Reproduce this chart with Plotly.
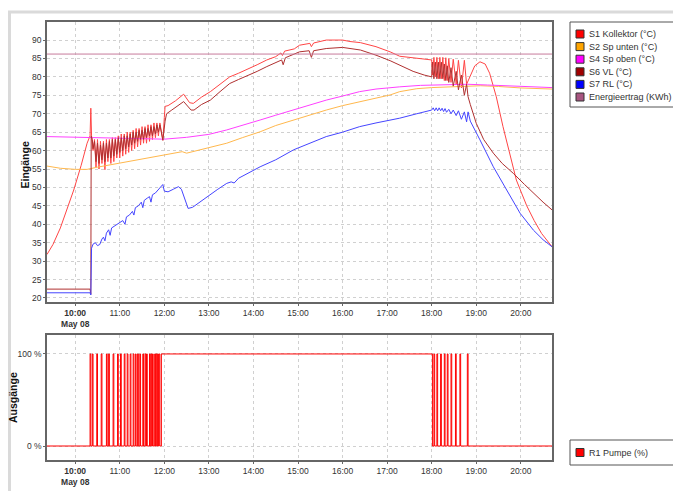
import plotly.graph_objects as go

DAY = "2013-05-08 "

# ---------------- data ----------------
s1_t = ["09:22","09:30","09:40","09:50","09:58","10:08","10:16","10:20","10:21","10:22",
        "10:24","10:26","10:28","10:30","10:32","10:34","10:36","10:38","10:40","10:42",
        "10:44","10:46","10:48","10:50","10:52","10:54","10:56","10:58","11:00","11:02",
        "11:04","11:06","11:08","11:10","11:12","11:14","11:16","11:18","11:20","11:22",
        "11:24","11:26","11:28","11:30","11:32","11:34","11:36","11:38","11:40","11:42",
        "11:44","11:46","11:48","11:50","11:52","11:54","11:56","11:58","12:00","12:01",
        "12:05","12:15","12:26","12:34","12:39","12:50","13:02","13:15","13:28","13:40",
        "13:55","14:05","14:18","14:30","14:37","14:39","14:42","14:55","15:02","15:10",
        "15:16","15:18","15:21","15:38","16:00","16:10","16:24","16:45","17:04","17:17",
        "17:35","17:50","18:00","18:01","18:03","18:05","18:07","18:09","18:11","18:13",
        "18:15","18:17","18:19","18:21","18:23","18:26","18:29","18:33","18:36","18:40",
        "18:44","18:47","18:52","18:58","19:05","19:12","19:18","19:27","19:36","19:45",
        "19:50","19:54","20:00","20:08","20:18","20:28","20:42"]
s1_v = [31.8,34.5,39,44.5,49.3,56,62,64,71.5,64,
        60,63,55.5,63,55,62.5,56.5,62.5,54.8,63,
        57,63,56.5,63.5,57,63.5,58,64,58,64.5,
        58.5,64.5,59,65,59.5,65,60,65.5,60.5,66,
        61,66,61.5,66.5,62,66.5,62,67,62.5,67,
        63,67.5,63.5,67.5,64,67.5,64.5,62.8,69,72,
        72.2,73.5,75.3,73,72.8,74.5,76,78,80,81,
        82.3,83.3,84.6,85.5,86.5,85.8,87,87.6,88.6,88.8,
        89.1,88.2,89.2,90,90,89.6,89.3,88.2,86.8,85.6,
        85.1,84.7,84.6,80.5,85.3,80,85.3,79.5,85.3,79.5,
        85.3,79,85.2,79,85,78.5,84.8,78,84.5,77,
        84.5,78,80.5,83,84.1,83.5,81,74.6,66.5,59.3,
        54.5,52,49,45,41,37.5,33.9]

s2_t = ["09:22","09:40","10:00","10:16","10:30","11:00","11:30","11:54","12:15","12:24",
        "12:30","12:45","13:00","13:24","13:45","14:09","14:30","14:54","15:15","15:38",
        "16:00","16:23","16:45","17:04","17:17","17:40","18:00","18:24","19:06","19:30",
        "20:00","20:42"]
s2_v = [55.8,55.2,54.9,54.9,55.5,56.6,57.6,58.5,59.3,59.7,
        59.3,60.0,60.8,62,63.5,65.1,66.8,68.3,69.7,71,
        72.2,73.3,74.3,75.1,76,76.8,77.1,77.3,77.6,77.4,
        77.0,76.7]

s4_t = ["09:22","10:20","11:00","12:00","12:30","13:00","13:24","13:45","14:09","14:30",
        "14:54","15:15","15:38","16:00","16:23","16:45","17:04","17:17","17:45","18:20",
        "18:48","19:15","19:45","20:15","20:42"]
s4_v = [63.8,63.5,63.3,63.1,63.6,64.4,65.6,66.8,68.3,69.6,
        71,72.4,73.7,74.8,76,76.7,77.1,77.3,77.7,77.9,
        78,77.8,77.5,77.3,77.1]

s6_t = ["09:22","10:20","10:21","10:21:30","10:23",
        "10:24","10:26","10:28","10:30","10:32","10:34","10:36","10:38","10:40","10:42",
        "10:44","10:46","10:48","10:50","10:52","10:54","10:56","10:58","11:00","11:02",
        "11:04","11:06","11:08","11:10","11:12","11:14","11:16","11:18","11:20","11:22",
        "11:24","11:26","11:28","11:30","11:32","11:34","11:36","11:38","11:40","11:42",
        "11:44","11:46","11:48","11:50","11:52","11:54","11:56","11:58","12:01","12:03",
        "12:10","12:26","12:36","12:40","12:50","13:02","13:15","13:28","13:40","13:55",
        "14:05","14:18","14:30","14:38","14:40","14:43","15:02","15:15","15:18","15:21",
        "15:38","16:00","16:24","16:45","17:04","17:17","17:35","17:50","18:00","18:01",
        "18:03","18:05","18:07","18:09","18:11","18:13","18:15","18:17","18:19","18:21",
        "18:23","18:26","18:29","18:33","18:36","18:40","18:44","18:47","18:49","18:52",
        "19:00","19:10","19:23","19:35","19:50","20:05","20:17","20:30","20:42"]
s6_v = [22.4,22.4,21,64,63,
        60.5,62.5,57,62,56.5,61.5,57.5,62,57,62,
        58,62.5,58,63,58.5,63,59,63.5,59.5,63.5,
        60,64,60.5,64,61,64.5,61.5,65,62,65,
        62.5,65.5,63,65.5,63,66,63.5,66,64,66.5,
        64,66.5,64.5,67,65,67,65,62.8,68,70,
        71,73.3,71,71,72.5,73.7,76,78.2,79.3,80.5,
        81.5,82.8,84,84.6,83.3,85.2,86.8,87.1,85.3,87.1,
        87.7,88,87.3,85.9,84.4,83.2,81.5,80.5,80,84,
        79.5,84,79.5,84,79.5,84,79.5,83.5,79,83,
        78.5,82.5,77.5,81.5,76.5,80.5,75,78,74.6,72.5,
        67.4,63,59.3,56.5,53.8,50.8,48.4,46,43.9]

s7_t = ["09:22","10:20","10:21","10:21:30","10:22","10:24","10:27","10:30","10:33","10:36",
        "10:38","10:40","10:42","10:45","10:47","10:49","10:53","10:56","11:00","11:04",
        "11:07","11:09","11:13","11:17","11:19","11:21","11:25","11:29","11:31","11:33",
        "11:37","11:40","11:42","11:44","11:48","11:52","11:55","11:58","12:00","12:05",
        "12:12","12:19","12:23","12:28","12:32","12:38","12:48","13:00","13:12","13:24",
        "13:30","13:34","13:40","14:09","14:30","14:54","15:15","15:38","16:00","16:23",
        "16:45","17:04","17:17","17:40","18:00","18:02","18:04","18:06","18:08","18:10",
        "18:12","18:14","18:16","18:18","18:20","18:23","18:26","18:29","18:33","18:36",
        "18:40","18:44","18:47","18:49","18:52","19:05","19:23","19:41","19:59","20:17",
        "20:30","20:42"]
s7_v = [21.4,21.4,20.8,33,33.5,34.6,35,34.2,34.5,36,
        36.5,35.5,37.6,38.5,37,39,39.5,39.8,40.3,41,
        40,42,42.5,43.5,42.5,44.5,45,46,44.5,46.5,
        47.1,47.5,46,48,48.5,49.5,50,50.8,49,48.8,
        49.5,50.2,49.5,46.5,44.3,44.6,46.1,47.8,49.5,51.1,
        51.5,51.2,52.5,55.6,57.5,60.2,62,63.8,65,66.5,
        67.5,68.3,68.8,70,71,71.6,70.8,71.6,70.8,71.6,
        70.8,71.5,70.6,71.4,70.4,71.2,70,71,69.5,70.8,
        68.5,70.5,67.8,70.5,68,62.9,55.6,49.3,43,38.4,
        35.8,33.9]

energie_t = ["09:22", "20:42"]
energie_v = [86.2, 86.2]

pump_on = ["10:20","10:23","10:29","10:35","10:42","10:45","10:51","10:57","11:01","11:06",
           "11:10","11:14","11:18","11:21","11:24","11:27","11:31","11:34","11:36","11:40",
           "11:42","11:44","11:47","11:49","11:51","11:53","11:56",
           "18:03","18:07","18:12","18:17","18:21","18:26","18:32","18:38","18:48"]
pump_off = ["10:21","10:24","10:30","10:36","10:43","10:46","10:52","10:58","11:02","11:07",
            "11:11","11:15","11:19","11:22","11:25","11:28","11:32","11:35","11:37","11:41",
            "11:43","11:45","11:48","11:50","11:52","11:54","18:01",
            "18:04","18:08","18:13","18:18","18:22","18:27","18:33","18:39","18:49"]

x_ticks = ["10:00","11:00","12:00","13:00","14:00","15:00","16:00","17:00","18:00","19:00","20:00"]
x_ticktext = ["<b>10:00</b><br><b>May 08</b>"] + x_ticks[1:]
y_ticks = [20,25,30,35,40,45,50,55,60,65,70,75,80,85,90]
y2_ticks = [0, 100]
y2_ticktext = ["0 %", "100 %"]
x_start, x_end = "09:22", "20:42"

# ---------------- figure ----------------
def d(ts):
    return [DAY + t for t in ts]

series = [
    ("S1 Kollektor (°C)", s1_t, s1_v, "#ff4545", "#ff0000"),
    ("S2 Sp unten (°C)", s2_t, s2_v, "#ffb84d", "#ffa500"),
    ("S4 Sp oben (°C)", s4_t, s4_v, "#ff40ff", "#ff00ff"),
    ("S6 VL (°C)", s6_t, s6_v, "#b03030", "#a00000"),
    ("S7 RL (°C)", s7_t, s7_v, "#4545ff", "#0000ff"),
    ("Energieertrag (KWh)", energie_t, energie_v, "#c77a9c", "#a85580"),
]

W, H = 681, 491
OFF = 8  # page body margin: screen position = figure position + 8
px = lambda v: (v - OFF) / W
py = lambda v: 1 - (v - OFF) / H

fig = go.Figure()
for name, ts, vs, lc, sc in series:
    fig.add_trace(go.Scatter(x=d(ts), y=vs, mode="lines", name=name, showlegend=False,
                             line=dict(color=lc, width=1), xaxis="x", yaxis="y"))

pump_name = "R1 Pumpe (%)"
pt = [x_start]
pv = [0]
for on, off in zip(pump_on, pump_off):
    pt += [on, off]
    pv += [100, 0]
pt.append(x_end)
pv.append(0)
fig.add_trace(go.Scatter(x=d(pt), y=pv, mode="lines", name=pump_name, showlegend=False,
                         line=dict(color="#ff0000", width=1, shape="hv"),
                         xaxis="x2", yaxis="y2"))

# ---- legend boxes (drawn as text + swatches to match the compact rows) ----
legend_font = dict(family="Liberation Sans, Arial, sans-serif", size=9, color="#333")
shapes = [dict(type="rect", xref="paper", yref="paper", x0=1.5 / W, y0=-0.02, x1=1.02, y1=py(12),
               line=dict(color="#dadada", width=3), layer="below")]
annotations = []

def legend_box(entries, top, bottom, first_row, row_gap):
    shapes.append(dict(type="rect", xref="paper", yref="paper", x0=px(570), x1=px(678),
                       y0=py(bottom), y1=py(top), line=dict(color="#555", width=1),
                       fillcolor="white", layer="above"))
    for i, (name, col) in enumerate(entries):
        cy = first_row + i * row_gap
        shapes.append(dict(type="rect", xref="paper", yref="paper",
                           x0=px(576), x1=px(584), y0=py(cy + 4), y1=py(cy - 4),
                           fillcolor=col, line=dict(color="#333", width=1), layer="above"))
        annotations.append(dict(text=name, x=px(587), y=py(cy), xref="paper", yref="paper",
                                xanchor="left", yanchor="middle", showarrow=False,
                                font=legend_font))

legend_box([(s[0], s[4]) for s in series], 22, 107, 34, 12.6)
legend_box([(pump_name, "#ff0000")], 440, 465, 452.5, 0)

annotations += [
    dict(text="<b>Eingänge</b>", x=px(24.5), y=py(165), xref="paper", yref="paper",
         xanchor="center", yanchor="middle", textangle=-90, showarrow=False,
         font=dict(family="Liberation Sans, Arial, sans-serif", size=10.5, color="#111")),
    dict(text="<b>Ausgänge</b>", x=px(13), y=py(398), xref="paper", yref="paper",
         xanchor="center", yanchor="middle", textangle=-90, showarrow=False,
         font=dict(family="Liberation Sans, Arial, sans-serif", size=10.5, color="#111")),
]

tickfont = dict(family="Liberation Sans, Arial, sans-serif", size=8.5, color="#333")
axis_common = dict(showline=True, linecolor="#666", linewidth=1.5, mirror=True,
                   showgrid=True, gridcolor="#d0d0d0", griddash="dot", gridwidth=1,
                   ticks="outside", ticklen=2, tickcolor="#666", tickfont=tickfont,
                   zeroline=False)

xr = [DAY + x_start, DAY + x_end]
fig.update_layout(
    width=W, height=H,
    margin=dict(l=0, r=0, t=0, b=0, autoexpand=False),
    paper_bgcolor="white", plot_bgcolor="white",
    font=dict(family="Liberation Sans, Arial, sans-serif", size=9, color="#333"),
    xaxis=dict(domain=[px(47), px(552)], anchor="y", type="date", range=xr,
               tickvals=d(x_ticks), ticktext=x_ticktext, **axis_common),
    yaxis=dict(domain=[py(302), py(22)], anchor="x", range=[18.9, 94.9],
               tickvals=y_ticks, **axis_common),
    xaxis2=dict(domain=[px(47), px(552)], anchor="y2", type="date", range=xr,
                tickvals=d(x_ticks), ticktext=x_ticktext, **axis_common),
    yaxis2=dict(domain=[py(460), py(335)], anchor="x2", range=[-15.2, 120.6],
                tickvals=y2_ticks, ticktext=y2_ticktext, **axis_common),
    annotations=annotations,
    shapes=shapes,
    showlegend=False,
)

fig.write_html("out.html")
